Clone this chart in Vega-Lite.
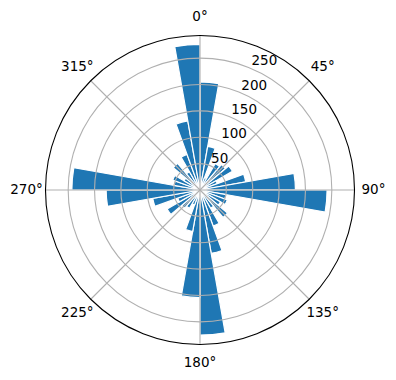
{
  "$schema": "https://vega.github.io/schema/vega-lite/v6.json",
  "width": 400,
  "height": 380,
  "autosize": "none",
  "padding": 0,
  "background": "white",
  "config": {"view": {"stroke": null}},
  "datasets": {
    "bars": [
      {"a0": 0, "a1": 10, "count": 205}, {"a0": 10, "a1": 20, "count": 84}, {"a0": 20, "a1": 30, "count": 25},
      {"a0": 30, "a1": 40, "count": 58}, {"a0": 40, "a1": 50, "count": 63}, {"a0": 50, "a1": 60, "count": 71},
      {"a0": 60, "a1": 70, "count": 35}, {"a0": 70, "a1": 80, "count": 88}, {"a0": 80, "a1": 90, "count": 181},
      {"a0": 90, "a1": 100, "count": 241}, {"a0": 100, "a1": 110, "count": 50}, {"a0": 110, "a1": 120, "count": 55},
      {"a0": 120, "a1": 130, "count": 45}, {"a0": 130, "a1": 140, "count": 68}, {"a0": 140, "a1": 150, "count": 40},
      {"a0": 150, "a1": 160, "count": 73}, {"a0": 160, "a1": 170, "count": 122}, {"a0": 170, "a1": 180, "count": 275},
      {"a0": 180, "a1": 190, "count": 204}, {"a0": 190, "a1": 200, "count": 80}, {"a0": 200, "a1": 210, "count": 30},
      {"a0": 210, "a1": 220, "count": 40}, {"a0": 220, "a1": 230, "count": 45}, {"a0": 230, "a1": 240, "count": 72},
      {"a0": 240, "a1": 250, "count": 45}, {"a0": 250, "a1": 260, "count": 91}, {"a0": 260, "a1": 270, "count": 178},
      {"a0": 270, "a1": 280, "count": 243}, {"a0": 280, "a1": 290, "count": 50}, {"a0": 290, "a1": 300, "count": 55},
      {"a0": 300, "a1": 310, "count": 35}, {"a0": 310, "a1": 320, "count": 66}, {"a0": 320, "a1": 330, "count": 40},
      {"a0": 330, "a1": 340, "count": 72}, {"a0": 340, "a1": 350, "count": 133}, {"a0": 350, "a1": 360, "count": 276}
    ],
    "rings": [
      {"r": 50, "t0": 0, "t1": 360, "label": "50"}, {"r": 100, "t0": 0, "t1": 360, "label": "100"},
      {"r": 150, "t0": 0, "t1": 360, "label": "150"}, {"r": 200, "t0": 0, "t1": 360, "label": "200"},
      {"r": 250, "t0": 0, "t1": 360, "label": "250"}
    ],
    "spokes": [
      {"angle": 0, "label": "0°"}, {"angle": 45, "label": "45°"}, {"angle": 90, "label": "90°"}, {"angle": 135, "label": "135°"},
      {"angle": 180, "label": "180°"}, {"angle": 225, "label": "225°"}, {"angle": 270, "label": "270°"}, {"angle": 315, "label": "315°"}
    ],
    "outer": [{"r": 293, "t0": 0, "t1": 360}]
  },
  "layer": [
    {
      "data": {"name": "bars"},
      "mark": {"type": "arc", "fill": "#1f77b4", "stroke": "white", "strokeWidth": 1.2},
      "encoding": {
        "theta": {"field": "a0", "type": "quantitative", "stack": null, "scale": {"domain": [0, 360], "range": [0, 6.283185307179586]}},
        "theta2": {"field": "a1"},
        "radius": {"field": "count", "type": "quantitative", "scale": {"type": "linear", "zero": true, "domain": [0, 293], "range": [0, 154.5]}}
      }
    },
    {
      "data": {"name": "rings"},
      "mark": {"type": "arc", "fill": null, "stroke": "#b0b0b0", "strokeWidth": 1.1},
      "encoding": {
        "theta": {"field": "t0", "type": "quantitative", "stack": null},
        "theta2": {"field": "t1"},
        "radius": {"field": "r", "type": "quantitative"}
      }
    },
    {
      "data": {"name": "spokes"},
      "mark": {"type": "arc", "fill": null, "stroke": "#b0b0b0", "strokeWidth": 1.1},
      "encoding": {
        "theta": {"field": "angle", "type": "quantitative", "stack": null},
        "theta2": {"field": "angle"},
        "radius": {"datum": 293, "type": "quantitative"}
      }
    },
    {
      "data": {"name": "outer"},
      "mark": {"type": "arc", "fill": null, "stroke": "black", "strokeWidth": 1.1},
      "encoding": {
        "theta": {"field": "t0", "type": "quantitative", "stack": null},
        "theta2": {"field": "t1"},
        "radius": {"field": "r", "type": "quantitative"}
      }
    },
    {
      "data": {"name": "spokes"},
      "mark": {"type": "text", "font": "DejaVu Sans", "fontSize": 13.5, "align": "center", "baseline": "middle", "color": "black"},
      "encoding": {
        "theta": {"field": "angle", "type": "quantitative", "stack": null},
        "radius": {"datum": 329, "type": "quantitative"},
        "text": {"field": "label"}
      }
    },
    {
      "data": {"name": "rings"},
      "mark": {"type": "text", "font": "DejaVu Sans", "fontSize": 13.5, "align": "left", "baseline": "middle", "dx": 1, "dy": -7, "color": "black"},
      "encoding": {
        "theta": {"datum": 22.5, "type": "quantitative"},
        "radius": {"field": "r", "type": "quantitative"},
        "text": {"field": "label"}
      }
    }
  ]
}
